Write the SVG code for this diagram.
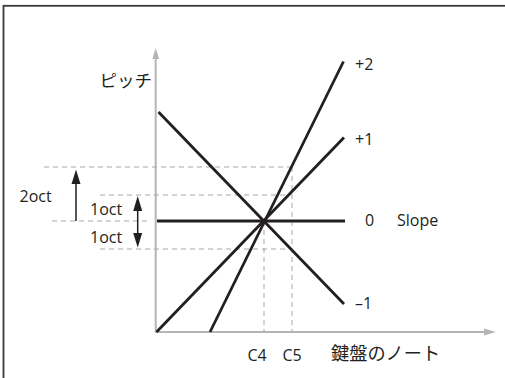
<svg xmlns="http://www.w3.org/2000/svg" width="505" height="378" viewBox="0 0 505 378">
<style>
.frame{fill:none;stroke:#3a3a3a;stroke-width:1.8}
.axis{stroke:#b5b5b7;stroke-width:2;fill:none}
.axhead{fill:#b5b5b7}
.dash{stroke:#a8a8a8;stroke-width:1;stroke-dasharray:5 4;fill:none}
.curve{stroke:#231f20;stroke-width:2.8;fill:none}
.arr{stroke:#231f20;stroke-width:1.5;fill:none}
.head{fill:#231f20}
text{font-family:"Open Sans","Noto Sans CJK JP",sans-serif;font-size:16px;fill:#231f20}
.jp{font-family:"Noto Sans CJK JP",sans-serif;font-size:17.5px}
</style>
<rect class="frame" x="3.5" y="5.8" width="560" height="420"/>
<g id="connectors">
<g id="axes">
<line class="axis" x1="155.7" y1="332" x2="155.7" y2="56"/>
<polygon class="axhead" points="155.7,48 152.3,59 159.1,59"/>
<line class="axis" x1="155" y1="332" x2="487" y2="332"/>
<polygon class="axhead" points="496,332 484,328.6 484,335.4"/>
</g>
<g id="guides">
<line class="dash" x1="44" y1="167" x2="292" y2="167"/>
<line class="dash" x1="100" y1="195" x2="290" y2="195"/>
<line class="dash" x1="52" y1="221" x2="148" y2="221"/>
<line class="dash" x1="100" y1="249" x2="292" y2="249"/>
<line class="dash" x1="264" y1="221" x2="264" y2="332"/>
<line class="dash" x1="292" y1="167" x2="292" y2="332"/>
</g>
<g id="slopes">
<line class="curve" x1="157" y1="221" x2="345" y2="221"/>
<line class="curve" x1="158.5" y1="112" x2="344" y2="304"/>
<line class="curve" x1="156.5" y1="332" x2="344" y2="137.5"/>
<line class="curve" x1="210" y1="332" x2="343.5" y2="61.5"/>
</g>
<g id="octave-arrows">
<line class="arr" x1="76" y1="221" x2="76" y2="180"/>
<polygon class="head" points="76,169.5 71.5,184 80.5,184"/>
<line class="arr" x1="137.7" y1="206" x2="137.7" y2="238"/>
<polygon class="head" points="137.7,196 133.2,211 142.2,211"/>
<polygon class="head" points="137.7,247.5 133.2,233 142.2,233"/>
</g>
</g>
<g id="labels">
<text class="jp" x="99.5" y="86.5">ピッチ</text>
<text x="355" y="70">+2</text>
<text x="355" y="145">+1</text>
<text x="365" y="226">0</text>
<text x="397" y="226">Slope</text>
<text x="355" y="309">–1</text>
<text x="19.5" y="202">2oct</text>
<text x="90" y="215">1oct</text>
<text x="90" y="243">1oct</text>
<text x="247.5" y="361">C4</text>
<text x="282.5" y="361">C5</text>
<text class="jp" x="331" y="360" style="font-size:18.2px">鍵盤のノート</text>
</g>
</svg>
